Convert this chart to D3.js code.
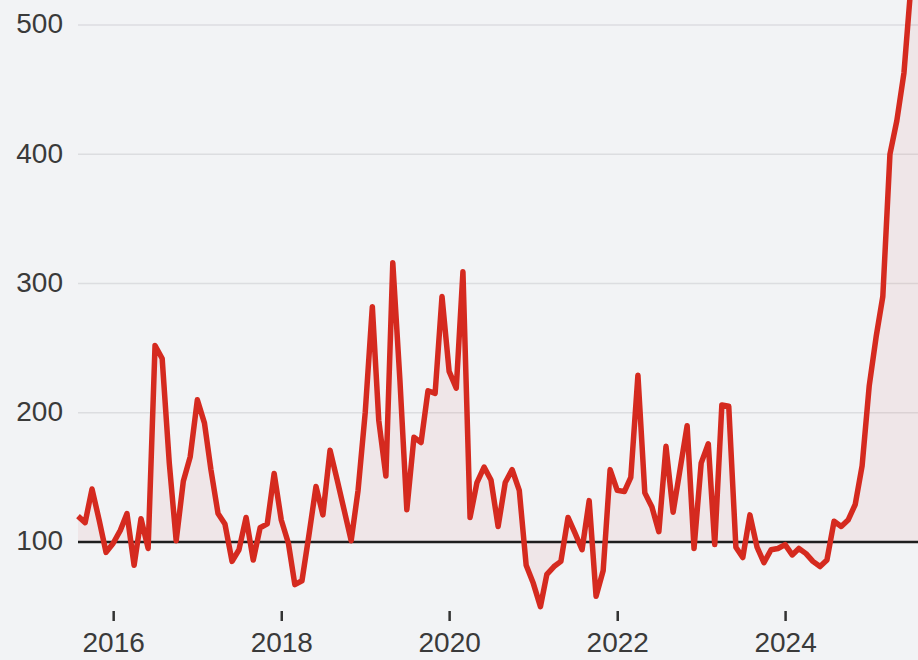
<!DOCTYPE html>
<html>
<head>
<meta charset="utf-8">
<script src="https://cdn.jsdelivr.net/npm/d3@7"></script>
<style>
  html, body { margin: 0; padding: 0; background: #f2f3f5; }
  svg { display: block; font-family: "Liberation Sans", Arial, sans-serif; }
</style>
</head>
<body>
<script>
// monthly index, Aug 2015 .. Aug 2025
var startMonth = "2015-08";
var values = [
  120, 115, 141, 117, 92, 99, 109, 122, 82, 118, 95,
  252, 242, 161, 101, 147, 166, 210, 192, 156, 122, 114, 85,
  94, 119, 86, 111, 114, 153, 117, 99, 67, 70, 105, 143, 121,
  171, 148, 125, 101, 140, 200, 282, 194, 151, 316, 225, 125,
  181, 177, 217, 215, 290, 232, 219, 309, 119, 146, 158, 148,
  112, 146, 156, 140, 82, 68, 50, 75, 81, 85, 119, 107,
  94, 132, 58, 78, 156, 140, 139, 150, 229, 138, 127, 108,
  174, 123, 156, 190, 95, 161, 176, 98, 206, 205, 96, 88,
  121, 96, 84, 94, 95, 98, 90, 95, 91, 85, 81, 86,
  116, 112, 117, 129, 159, 221, 260, 290, 400, 426, 463, 530, 600
];
var yTicks = [100, 200, 300, 400, 500];
var xTicks = [2016, 2018, 2020, 2022, 2024];
var baseValue = 100;

var width = 918;
var height = 660;
var plotLeft = 78, plotRight = 918, plotTop = 25, plotBottom = 542;

var parseMonth = d3.timeParse("%Y-%m");
var t0 = parseMonth(startMonth);
var data = values.map(function (v, i) {
  return { date: d3.timeMonth.offset(t0, i), value: v };
});

var x = d3.scaleTime()
    .domain([data[0].date, data[data.length - 1].date])
    .range([plotLeft, plotRight]);

var y = d3.scaleLinear()
    .domain([100, 500])
    .range([plotBottom, plotTop]);

var svg = d3.select("body").append("svg")
    .attr("width", width)
    .attr("height", height);

svg.append("rect")
    .attr("width", width)
    .attr("height", height)
    .attr("fill", "#f2f3f5");

// gridlines
svg.append("g")
    .selectAll("line")
    .data(yTicks.filter(function (d) { return d !== baseValue; }))
    .enter().append("line")
    .attr("x1", plotLeft)
    .attr("x2", width)
    .attr("y1", function (d) { return y(d); })
    .attr("y2", function (d) { return y(d); })
    .attr("stroke", "#dcdde0")
    .attr("stroke-width", 1.5);

// y labels
svg.append("g")
    .selectAll("text")
    .data(yTicks)
    .enter().append("text")
    .attr("x", plotLeft - 15)
    .attr("y", function (d) { return y(d); })
    .attr("dy", "0.3em")
    .attr("text-anchor", "end")
    .attr("fill", "#3a3a3a")
    .style("font-size", "28px")
    .text(function (d) { return d; });

// area between line and 100
var area = d3.area()
    .x(function (d) { return x(d.date); })
    .y0(y(baseValue))
    .y1(function (d) { return y(d.value); });

svg.append("path")
    .datum(data)
    .attr("d", area)
    .attr("fill", "#d4281c")
    .attr("fill-opacity", 0.06);

// baseline at 100
svg.append("line")
    .attr("x1", plotLeft)
    .attr("x2", width)
    .attr("y1", y(baseValue))
    .attr("y2", y(baseValue))
    .attr("stroke", "#1e1e1e")
    .attr("stroke-width", 2.5);

var line = d3.line()
    .x(function (d) { return x(d.date); })
    .y(function (d) { return y(d.value); });

svg.append("path")
    .datum(data)
    .attr("d", line)
    .attr("fill", "none")
    .attr("stroke", "#d52a1f")
    .attr("stroke-width", 5.5)
    .attr("stroke-linejoin", "round");

// x axis
var xAxis = d3.axisBottom(x)
    .tickValues(xTicks.map(function (yr) { return new Date(yr, 0, 1); }))
    .tickFormat(d3.timeFormat("%Y"))
    .tickSize(10)
    .tickPadding(11);

var gx = svg.append("g")
    .attr("transform", "translate(0,611)")
    .call(xAxis);

gx.select(".domain").remove();
gx.selectAll(".tick line")
    .attr("stroke", "#333")
    .attr("stroke-width", 2.5);
gx.selectAll(".tick text")
    .attr("fill", "#3a3a3a")
    .style("font-size", "28px")
    .style("font-family", "'Liberation Sans', Arial, sans-serif");
</script>
</body>
</html>
